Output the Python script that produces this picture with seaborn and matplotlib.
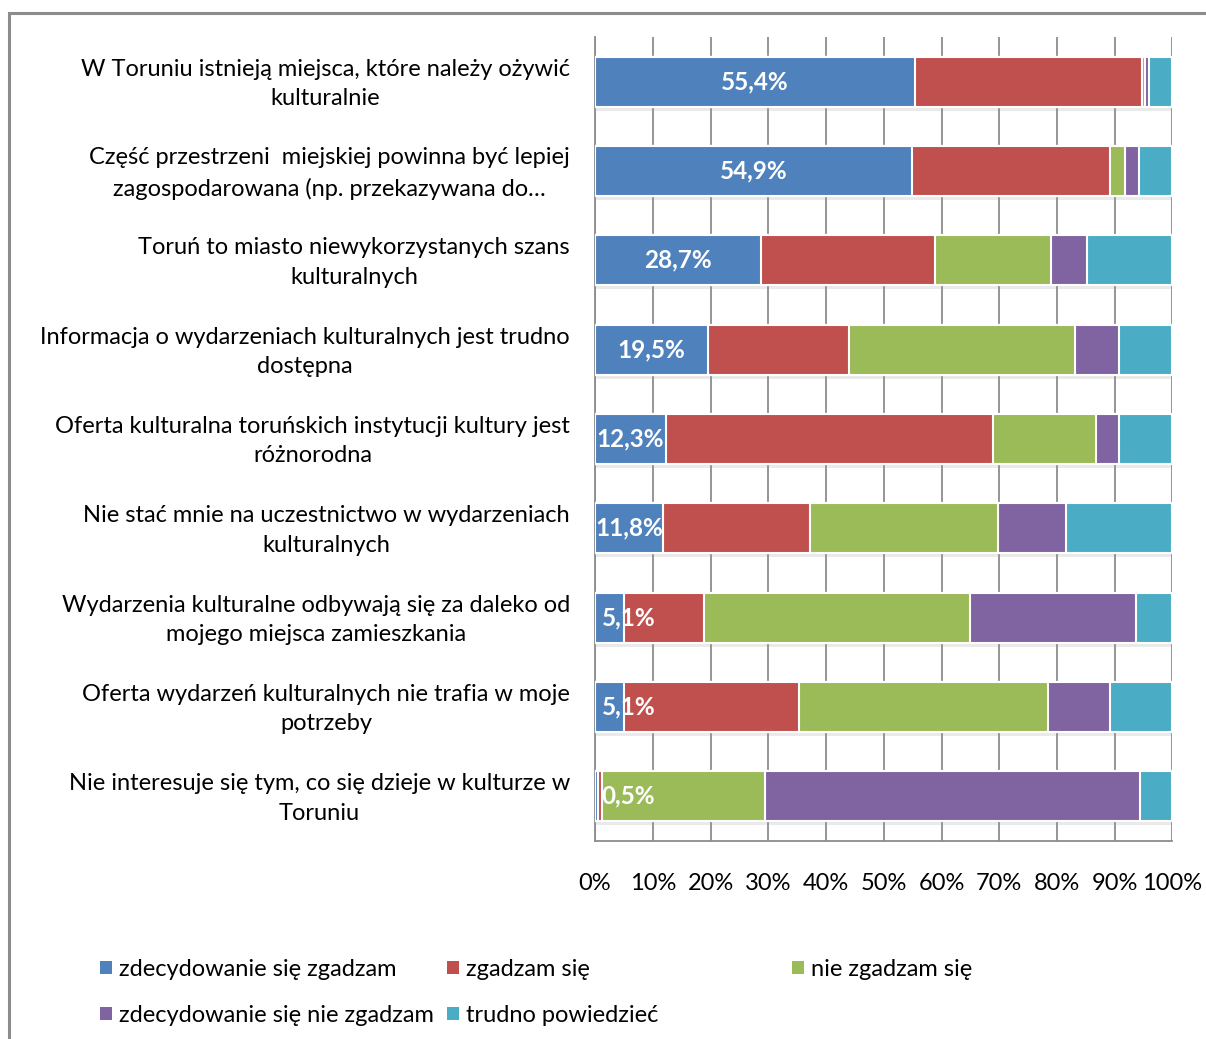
import matplotlib
matplotlib.use("Agg")
import matplotlib.pyplot as plt
import matplotlib.patheffects as pe
import matplotlib.transforms as mtransforms
from matplotlib.patches import Rectangle, Patch
import seaborn as sns
import pandas as pd
import numpy as np

statements = [
    "W Toruniu istnieją miejsca, które należy ożywić\nkulturalnie",
    "Część przestrzeni  miejskiej powinna być lepiej\nzagospodarowana (np. przekazywana do…",
    "Toruń to miasto niewykorzystanych szans\nkulturalnych",
    "Informacja o wydarzeniach kulturalnych jest trudno\ndostępna",
    "Oferta kulturalna toruńskich instytucji kultury jest\nróżnorodna",
    "Nie stać mnie na uczestnictwo w wydarzeniach\nkulturalnych",
    "Wydarzenia kulturalne odbywają się za daleko od\nmojego miejsca zamieszkania",
    "Oferta wydarzeń kulturalnych nie trafia w moje\npotrzeby",
    "Nie interesuje się tym, co się dzieje w kulturze w\nToruniu",
]
answers = ["zdecydowanie się zgadzam", "zgadzam się", "nie zgadzam się",
           "zdecydowanie się nie zgadzam", "trudno powiedzieć"]

strongly_agree = [55.4, 54.9, 28.7, 19.5, 12.3, 11.8, 5.1, 5.1, 0.5]
agree = [39.4, 34.3, 30.1, 24.5, 56.7, 25.4, 13.7, 30.2, 0.7]
disagree = [0.4, 2.5, 20.2, 39.1, 17.8, 32.5, 46.2, 43.1, 28.2]
strongly_disagree = [0.8, 2.5, 6.2, 7.7, 4.0, 11.9, 28.7, 10.8, 65.0]
hard_to_say = [4.0, 5.8, 14.8, 9.2, 9.2, 18.4, 6.3, 10.8, 5.6]

colors = ["#4F81BD", "#C0504D", "#9BBB59", "#8064A2", "#4BACC6"]

df = pd.DataFrame({"statement": statements,
                   answers[0]: strongly_agree, answers[1]: agree,
                   answers[2]: disagree, answers[3]: strongly_disagree,
                   answers[4]: hard_to_say})
cum = df[answers].cumsum(axis=1)
cum["statement"] = df["statement"]

plt.rcParams['font.family'] = ['Lato', 'DejaVu Sans']
fig = plt.figure(figsize=(12.06, 10.39), dpi=100)
ax = fig.add_axes([0.4934, 0.1906, 0.4788, 0.7738])

# stacked bars: draw cumulative totals from longest to shortest
for i in range(len(answers) - 1, -1, -1):
    sns.barplot(data=cum, x=answers[i], y="statement", order=statements,
                color=colors[i], width=0.56, edgecolor="white",
                linewidth=1.5, saturation=1, ax=ax, zorder=3)
shadow = [pe.SimplePatchShadow(offset=(1, -3), shadow_rgbFace="#999999", alpha=0.2), pe.Normal()]
for p in ax.patches[:len(statements)]:
    p.set_path_effects(shadow)

for k, v in enumerate(strongly_agree):
    ax.text(max(v / 2, 5.8), k, f"{v:.1f}%".replace(".", ","), ha="center", va="center",
            color="white", fontsize=17.5, fontweight="bold", zorder=5)

ax.set_xlim(0, 100)
ax.set_ylim(len(statements) - 0.5, -0.5)
ax.set_xticks(np.arange(0, 101, 10))
ax.set_xticklabels([f"{t}%" for t in range(0, 101, 10)], fontsize=17)
ax.tick_params(axis="x", length=0, pad=23)
ax.tick_params(axis="y", length=0, pad=18, labelsize=17)
shift_up = mtransforms.ScaledTranslation(0, 4 / 100, fig.dpi_scale_trans)
for lab in ax.get_yticklabels():
    lab.set_multialignment("center")
    lab.set_linespacing(1.5)
    lab.set_transform(lab.get_transform() + shift_up)
ax.set_xlabel("")
ax.set_ylabel("")
ax.grid(axis="x", color="#8c8c8c", linewidth=1.3, zorder=0)
ax.set_axisbelow(True)
for s in ["top", "right"]:
    ax.spines[s].set_visible(False)
for s in ["left", "bottom"]:
    ax.spines[s].set_color("#8c8c8c")
    ax.spines[s].set_linewidth(1.3)

handles = [Patch(facecolor=c, edgecolor="none") for c in colors]
leg_kw = dict(loc="upper left", frameon=False, fontsize=17, handlelength=0.5,
              handleheight=0.5, handletextpad=0.3, borderaxespad=0, borderpad=0)
fig.legend([handles[0], handles[3], handles[1], handles[4]],
           [answers[0], answers[3], answers[1], answers[4]],
           ncol=2, bbox_to_anchor=(0.083, 0.077), columnspacing=0.55, labelspacing=1.05, **leg_kw)
fig.legend([handles[2]], [answers[2]], bbox_to_anchor=(0.657, 0.077), **leg_kw)

fig.patches.append(Rectangle((9 / 1206, -0.1), 1.2, 1 - 13 / 1039 + 0.1, transform=fig.transFigure,
                             fill=False, edgecolor="#8c8c8c", linewidth=2.2))

fig.savefig("out.png", dpi=100, facecolor="white")
